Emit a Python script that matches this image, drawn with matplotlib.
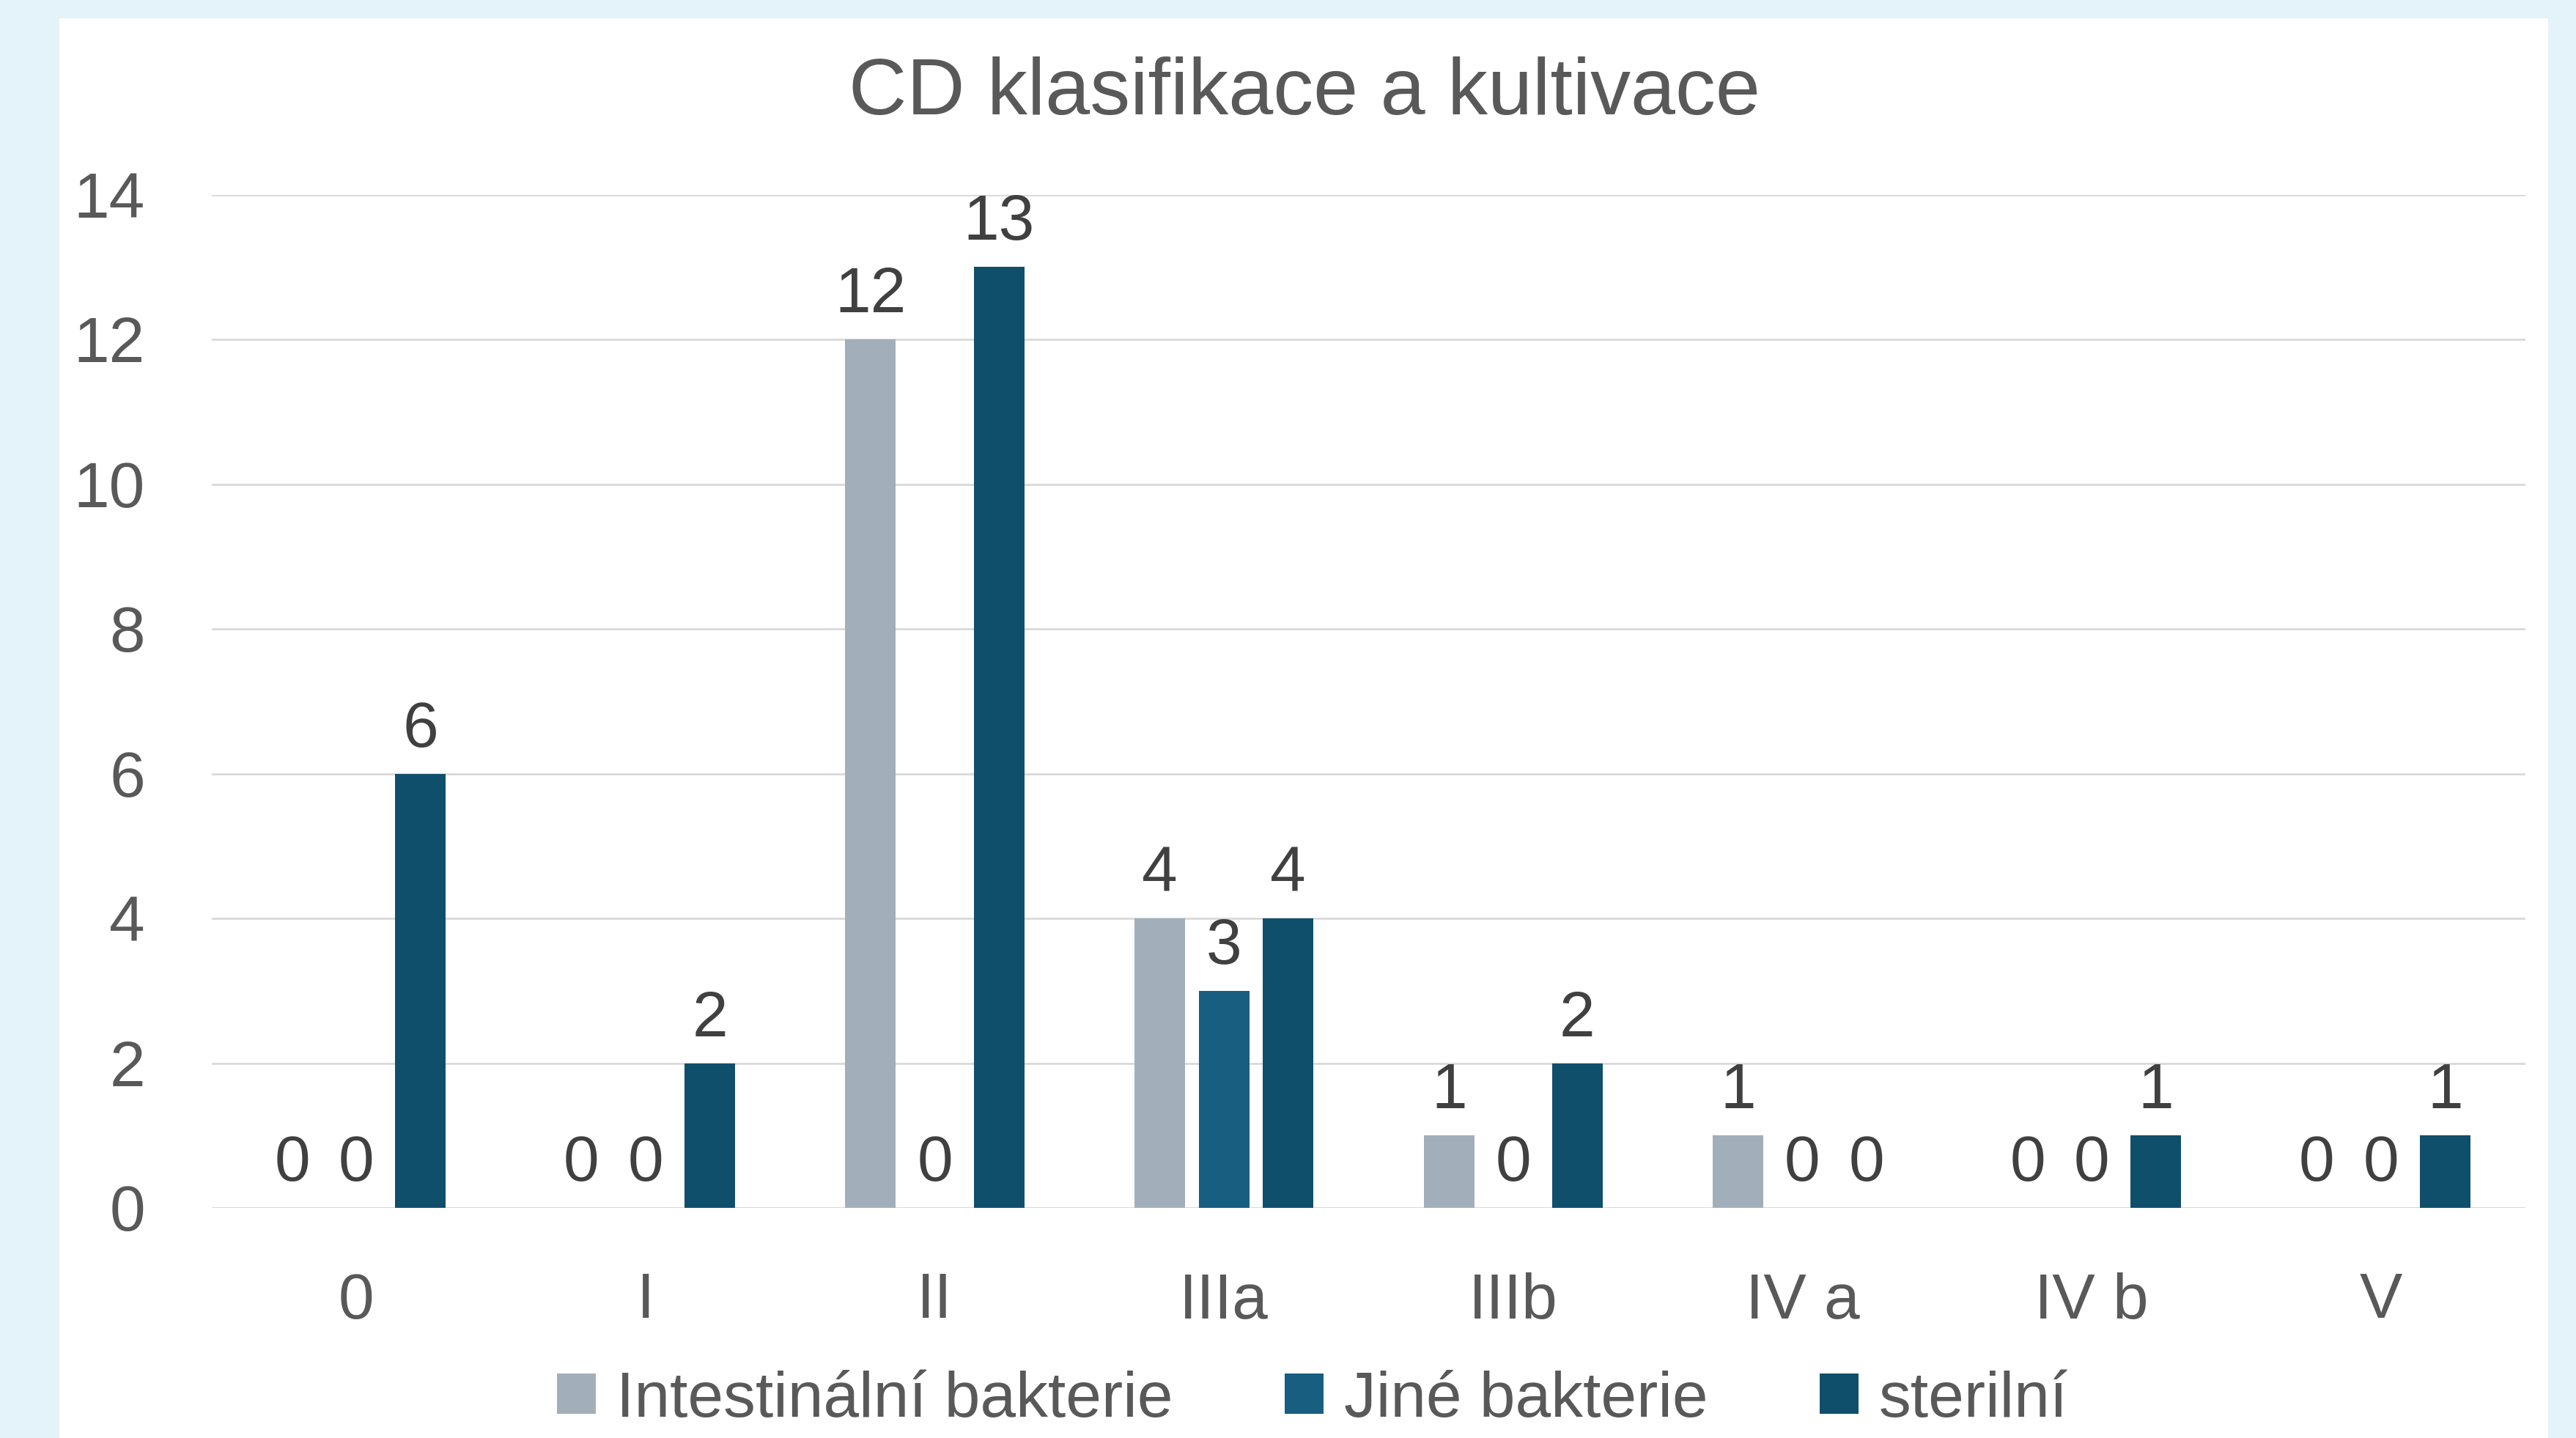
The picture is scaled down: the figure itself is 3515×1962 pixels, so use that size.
import matplotlib
matplotlib.use("Agg")
import matplotlib.pyplot as plt
from matplotlib.patches import Rectangle
import numpy as np

plt.rcParams['font.family'] = ['Liberation Sans', 'DejaVu Sans']

categories = ["0", "I", "II", "IIIa", "IIIb", "IV a", "IV b", "V"]
series_names = ["Intestinální bakterie", "Jiné bakterie", "sterilní"]
intestinalni = [0, 0, 12, 4, 1, 1, 0, 0]
jine = [0, 0, 0, 3, 0, 0, 0, 0]
sterilni = [6, 2, 13, 4, 2, 0, 1, 1]
series_values = [intestinalni, jine, sterilni]
colors = ["#A2AFBA", "#175E81", "#104F6B"]
title = "CD klasifikace a kultivace"
yticks = [0, 2, 4, 6, 8, 10, 12, 14]

W, H = 3516, 1962
dpi = 100
fig = plt.figure(figsize=(W / dpi, H / dpi), dpi=dpi)
fig.patch.set_facecolor("#E4F2FA")
fig.patches.append(Rectangle((81 / W, 0), (3477 - 81) / W, 1 - 25 / H,
                             transform=fig.transFigure, facecolor="white",
                             edgecolor="none", zorder=-5))

ax = fig.add_axes([289 / W, 1 - 1648 / H, (3446 - 289) / W, (1648 - 265.5) / H])
ax.set_zorder(2)
ax.set_facecolor("none")

x = np.arange(len(categories))
step = 0.222
width = 0.175
for i, (vals, c, name) in enumerate(zip(series_values, colors, series_names)):
    offs = (i - 1) * step
    ax.bar(x + offs, vals, width=width, color=c, label=name, zorder=3)
    for xi, v in zip(x + offs, vals):
        ax.annotate(str(v), (xi, v), xytext=(0, 26.6), textcoords="offset points",
                    ha="center", va="baseline", fontsize=63, color="#404040",
                    zorder=4)

ax.set_xlim(-0.5, len(categories) - 0.5)
ax.set_ylim(0, 14)
ax.set_yticks(yticks)
ax.set_xticks(x)
ax.set_xticklabels(categories)
ax.tick_params(axis="both", length=0, labelsize=63, labelcolor="#595959")
ax.tick_params(axis="y", pad=65.5)
ax.tick_params(axis="x", pad=63)
ax.grid(axis="y", color="#D9D9D9", linewidth=2, zorder=0)
ax.set_axisbelow(True)
for s in ax.spines.values():
    s.set_visible(False)
ax.axhline(0, color="#D9D9D9", linewidth=2.2, zorder=2)

fig.text(1780 / W, 1 - 156 / H, title, ha="center", va="baseline",
         fontsize=79, color="#595959")

handles, labels = ax.get_legend_handles_labels()
leg = fig.legend(handles, labels, loc="center", bbox_to_anchor=(1791 / W, 1 - 1910 / H),
                 ncol=3, frameon=False, fontsize=63, labelcolor="#595959",
                 handlelength=0.6, handleheight=0.6, handletextpad=0.32,
                 columnspacing=1.75, borderpad=0, borderaxespad=0)

fig.savefig("out.png", dpi=dpi, facecolor=fig.get_facecolor())
